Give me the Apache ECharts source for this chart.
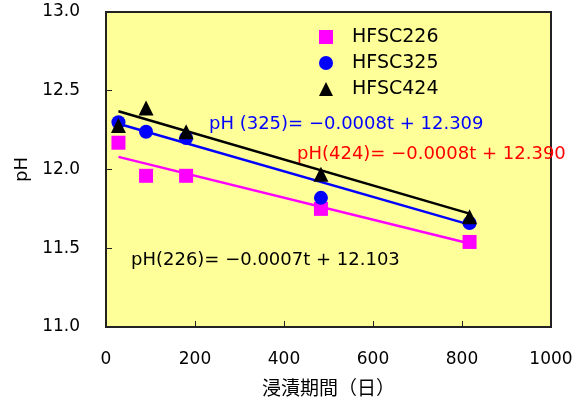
<!DOCTYPE html>
<html><head><meta charset="utf-8">
<script src="https://cdn.jsdelivr.net/npm/echarts@6/dist/echarts.min.js"></script>
<style>html,body{margin:0;padding:0;background:#fff}#c{width:583px;height:402px}</style>
</head><body><div id="c"></div>
<script>
const days = [28, 90, 180, 483, 817];
const ph226 = [12.17, 11.96, 11.96, 11.75, 11.54];
const ph325 = [12.30, 12.24, 12.20, 11.82, 11.66];
const ph424 = [12.28, 12.39, 12.24, 11.97, 11.70];
const trendDays = [28, 817];
const trend226 = [12.08, 11.53];
const trend325 = [12.29, 11.65];
const trend424 = [12.37, 11.72];
const seriesNames = ['HFSC226', 'HFSC325', 'HFSC424'];
const eqTexts = ['pH(226)= \u22120.0007t + 12.103', 'pH (325)= \u22120.0008t + 12.309', 'pH(424)= \u22120.0008t + 12.390'];
const xTicks = [0, 200, 400, 600, 800, 1000];
const yTicks = [11.0, 11.5, 12.0, 12.5, 13.0];

const FONT = '"DejaVu Sans", "Noto Sans CJK JP", sans-serif';
const JFONT = '"Noto Sans CJK JP", "DejaVu Sans", sans-serif';
const pair = (xs, ys) => xs.map((x, i) => [x, ys[i]]);
const colors = ['#FF00FF', '#0000FF', '#000000'];
const symbols = ['rect', 'circle', 'triangle'];
const pts = [ph226, ph325, ph424];
const trends = [trend226, trend325, trend424];

const series = [];
trends.forEach((t, i) => {
  series.push({
    type: 'line', name: 'trend' + i, data: pair(trendDays, t),
    showSymbol: false, symbol: 'none', silent: true,
    lineStyle: { color: colors[i], width: 2.5 }, z: 2
  });
});
pts.forEach((p, i) => {
  series.push({
    type: 'scatter', name: seriesNames[i], data: pair(days, p),
    symbol: symbols[i], symbolSize: i === 2 ? 15 : 14,
    itemStyle: { color: colors[i], opacity: 1 }, z: 5
  });
});

const chart = echarts.init(document.getElementById('c'));
chart.setOption({
  animation: false,
  backgroundColor: '#ffffff',
  grid: { left: 106, right: 32, top: 12, bottom: 73, show: true,
          backgroundColor: '#FFFF99', borderColor: '#222', borderWidth: 2 },
  legend: {
    data: seriesNames, orient: 'vertical', left: 314, top: 22,
    itemWidth: 14, itemHeight: 14, itemGap: 6,
    textStyle: { fontFamily: FONT, fontSize: 19, lineHeight: 20, color: '#000', padding: [0, 0, 0, 14] }
  },
  xAxis: {
    type: 'value', min: xTicks[0], max: xTicks[xTicks.length - 1], interval: 200,
    name: '浸漬期間（日）', nameLocation: 'middle', nameGap: 51,
    nameTextStyle: { fontFamily: JFONT, fontSize: 19, color: '#000' },
    axisLine: { show: true, lineStyle: { color: '#222', width: 2 } },
    axisTick: { show: true, inside: true, length: 6, lineStyle: { color: '#222', width: 1 } },
    axisLabel: { fontFamily: FONT, fontSize: 17, color: '#000', margin: 24,
                 formatter: v => String(v) },
    splitLine: { show: false }
  },
  yAxis: {
    type: 'value', min: yTicks[0], max: yTicks[yTicks.length - 1], interval: 0.5,
    name: 'pH', nameLocation: 'middle', nameGap: 70, nameRotate: 90,
    nameTextStyle: { fontFamily: FONT, fontSize: 18, color: '#000' },
    axisLine: { show: true, lineStyle: { color: '#222', width: 2 } },
    axisTick: { show: true, inside: true, length: 6, lineStyle: { color: '#222', width: 1 } },
    axisLabel: { fontFamily: FONT, fontSize: 17, color: '#000', margin: 26,
                 formatter: v => v.toFixed(1) },
    splitLine: { show: false }
  },
  graphic: [
    { type: 'text', left: 131, top: 251, z: 10,
      style: { text: eqTexts[0], fill: '#000', font: '18px ' + FONT } },
    { type: 'text', left: 209, top: 115, z: 10,
      style: { text: eqTexts[1], fill: '#0000FF', font: '18px ' + FONT } },
    { type: 'text', left: 297, top: 145, z: 10,
      style: { text: eqTexts[2], fill: '#FF0000', font: '18px ' + FONT } }
  ],
  series: series
});
</script></body></html>
